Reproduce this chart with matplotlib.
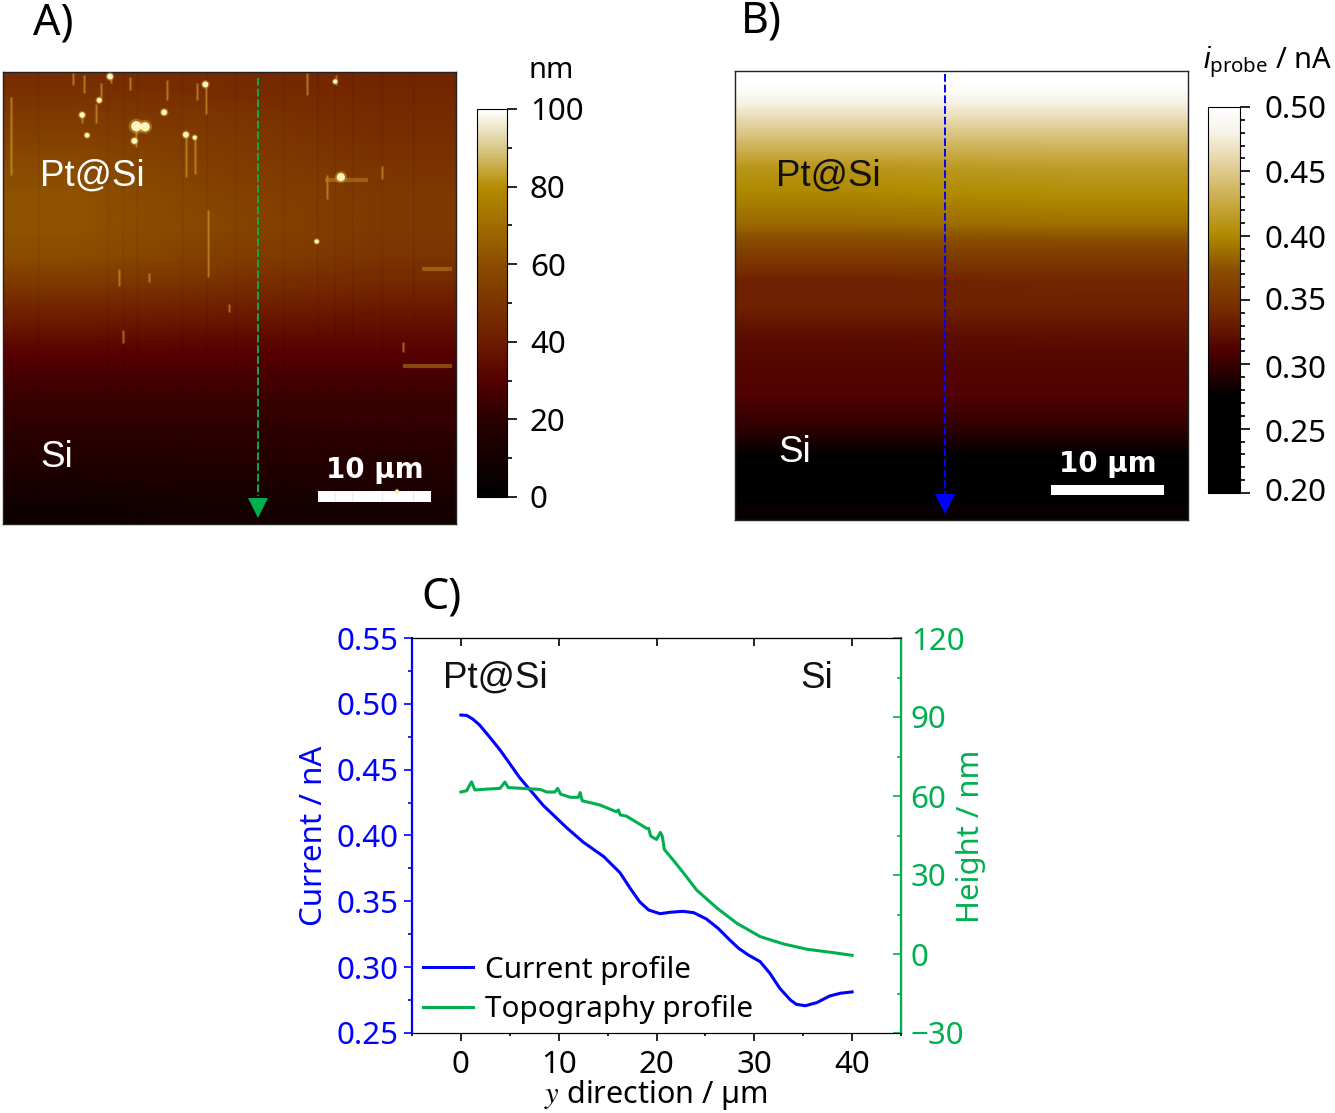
import numpy as np
import matplotlib
matplotlib.use("Agg")
import matplotlib.pyplot as plt
from matplotlib.colors import LinearSegmentedColormap
from matplotlib.cm import ScalarMappable
from matplotlib.colors import Normalize
from matplotlib.patches import Rectangle
from matplotlib.ticker import MultipleLocator, FixedLocator, FormatStrFormatter, NullFormatter

W, H = 1335, 1113

# profiles in panel C
x_current = [0, 0.6, 1.2, 1.9, 2.8, 4, 6, 8.4, 10.8, 12.5, 14.6, 16.27, 17.3, 18.3, 19.2, 20.36,
             21.4, 22.7, 23.8, 25.1, 26.3, 27.5, 28.4, 29.4, 30.6, 31.6, 32.6, 33.7, 34.3, 35.2,
             36.4, 37.7, 38.8, 40]
current = [0.4915, 0.4912, 0.4885, 0.484, 0.476, 0.465, 0.444, 0.423, 0.406, 0.395, 0.384, 0.3717,
           0.360, 0.3495, 0.3434, 0.3406, 0.3417, 0.3424, 0.3414, 0.3366, 0.3295, 0.3206, 0.3143,
           0.3092, 0.3042, 0.2953, 0.2840, 0.2750, 0.2718, 0.2707, 0.2731, 0.2781, 0.2802, 0.2812]
x_height = [0, 0.58, 1.09, 1.43, 2.6, 4.0, 4.5, 4.84, 6.7, 8.1, 8.8, 9.6, 9.9, 10.2, 11.2, 12,
            12.2, 12.4, 14.2, 15.9, 16.1, 16.3, 16.9, 19.0, 19.2, 19.4, 20, 20.4, 20.6, 20.8,
            21.7, 22.8, 24.1, 26.2, 28.2, 30.6, 33, 35.4, 38.1, 40]
height = [61.5, 62.0, 65.4, 62.3, 62.6, 62.9, 65.3, 63.2, 62.8, 62.5, 61.5, 61.5, 62.9, 60.7,
          59.5, 59.5, 61.3, 58.2, 56.6, 54.0, 54.7, 52.8, 52.4, 47.7, 47.7, 44.8, 43.5, 46.2,
          44.6, 39.7, 35.7, 30.6, 24.3, 17.4, 11.7, 6.6, 3.8, 1.8, 0.5, -0.5]

# topography map, rows top to bottom, in nm (left, middle, right of the scan)
topo_left = [48, 52, 56, 60, 62, 62, 60, 52, 42, 34, 28, 24, 21, 17, 13, 7]
topo_mid = [46, 50, 52, 54, 56, 57, 54, 48, 40, 33, 28, 24, 21, 18, 14, 10]
topo_right = [44, 46, 48, 50, 52, 52, 50, 45, 38, 33, 28, 24, 22, 18, 15, 10]

# vertical scan lines and bright features on the map, in um from the top left corner
stripe_x = [3.1, 9.3, 10.6, 11.8, 15.8, 18, 20.5, 24.8, 27.7, 29.3, 30.8, 33.5, 36.2]
streaks_x = [0.68, 6.14, 7.15, 8.67, 6.99, 8.17, 9.51, 11.2, 14.47, 17.1, 17.94, 16.15, 16.93, 11.7,
             10.25, 10.59, 12.88, 18.1, 19.96, 33.44, 28.65, 35.3, 26.87, 29.4]
streaks_top = [2.2, 0.1, 0.3, 1, 3.5, 2.8, 0.27, 0.4, 0.7, 1, 1, 5.6, 5.7, 5.1, 17.4,
               22.8, 17.8, 12.2, 20.5, 8.3, 9.1, 23.9, 0.1, 0.27]
streaks_end = [9.1, 1.15, 1.9, 2.2, 4.5, 4.5, 1, 1.6, 2.5, 2.5, 3.7, 9.3, 9, 6.6, 18.9,
               24, 18.6, 18.1, 21.2, 9.5, 11.2, 24.8, 2, 1.15]
ridges_x0 = [36.98, 35.29, 28.39]
ridges_x1 = [39.67, 39.67, 32.26]
ridges_y = [17.4, 26.0, 9.6]
spots_x = [11.77, 12.55, 11.6, 14.23, 16.15, 17.87, 9.45, 6.99, 8.5, 7.42, 29.83, 27.7, 16.93, 29.33,
           34.79]
spots_y = [4.8, 4.85, 6.1, 3.57, 5.55, 1.1, 0.4, 3.8, 2.5, 5.6, 9.3, 15, 5.8, 0.85, 37.1]
spots_size = [55, 45, 18, 18, 18, 18, 18, 16, 14, 12, 35, 10, 10, 10, 6]

# current map, rows top to bottom, in nA (left and right of the scan)
probe_left = [0.50, 0.47, 0.44, 0.41, 0.398, 0.385, 0.36, 0.335, 0.335, 0.32, 0.315, 0.312, 0.30,
              0.281, 0.268, 0.279]
probe_right = [0.50, 0.47, 0.44, 0.415, 0.402, 0.388, 0.36, 0.34, 0.335, 0.322, 0.315, 0.312, 0.30,
               0.281, 0.268, 0.279]

cbar_a_ticks = [0, 20, 40, 60, 80, 100]
cbar_b_ticks = [0.20, 0.25, 0.30, 0.35, 0.40, 0.45, 0.50]

BLUE = "#0000ff"
GREEN = "#00b050"
SANS = "Noto Sans"

plt.rcParams["font.family"] = SANS
plt.rcParams["mathtext.fontset"] = "custom"
plt.rcParams["mathtext.rm"] = SANS
plt.rcParams["mathtext.it"] = "Liberation Sans:italic"

cmap_a = LinearSegmentedColormap.from_list("topo", [
    (0, "#000000"), (0.2, "#2a0000"), (0.3, "#550000"), (0.4, "#6e1c00"), (0.6, "#8a4c00"),
    (0.8, "#b58c00"), (0.9, "#d8c888"), (1, "#ffffff")])
cmap_b = LinearSegmentedColormap.from_list("probe", [
    (0, "#000000"), (0.25, "#000000"), (0.37, "#500000"), (0.47, "#762800"), (0.58, "#8a5000"),
    (0.67, "#b08a00"), (0.75, "#c8a840"), (0.84, "#dfcb90"), (0.94, "#f8f4ea"), (1, "#ffffff")])


def px_axes(left, top, right, bottom):
    return fig.add_axes([left / W, 1 - bottom / H, (right - left) / W, (bottom - top) / H])


def px_text(x, y, s, **kw):
    kw.setdefault("va", "center")
    return fig.text(x / W, 1 - y / H, s, **kw)


def scale_bar(ax, x0, y0, y1, label, dy):
    ax.add_patch(Rectangle((x0, y0), 10, y1 - y0, color="white", lw=0))
    ax.text(x0 + 5, y0 - dy, label, color="white", ha="center", va="center", fontsize=20,
            fontweight="bold", family="DejaVu Sans")


def setup_map(ax):
    ax.set_xticks([])
    ax.set_yticks([])
    ax.set_xlim(0, 40)
    ax.set_ylim(40, 0)
    for s in ax.spines.values():
        s.set_linewidth(1.0)
        s.set_color("#222222")


fig = plt.figure(figsize=(W / 100, H / 100), dpi=100)

# A) topography
ax_a = px_axes(3, 72, 456, 524)
topo = np.column_stack([topo_left, topo_mid, topo_right])
ax_a.imshow(topo, cmap=cmap_a, vmin=0, vmax=100, extent=[0, 40, 40, 0], aspect="auto",
            interpolation="bilinear")
ax_a.vlines(stripe_x, 0, 40, color="black", lw=1.0, alpha=0.07)
ax_a.vlines(streaks_x, streaks_top, streaks_end, color="#d8a020", lw=2.4, alpha=0.22)
ax_a.vlines(streaks_x, streaks_top, streaks_end, color="#e0b040", lw=1.0, alpha=0.45)
ax_a.hlines(ridges_y, ridges_x0, ridges_x1, color="#b88420", lw=3, alpha=0.55)
ax_a.scatter(spots_x, spots_y, s=np.array(spots_size) * 2.2, color="#e0b030", alpha=0.4, lw=0, zorder=3)
ax_a.scatter(spots_x, spots_y, s=spots_size, color="#fff4c0", lw=0, zorder=3)
ax_a.plot([22.5, 22.5], [0.5, 37.5], color=GREEN, lw=1.4, ls=(0, (4, 1.5)))
ax_a.plot([22.5], [38.6], marker="v", ms=15, color=GREEN, mew=0)
scale_bar(ax_a, 27.8, 37.1, 38.05, "10 µm", 1.9)
setup_map(ax_a)
ax_a.text(3.3, 9.2, "Pt@Si", color="white", fontsize=26.5, family="Liberation Sans", va="center")
ax_a.text(3.3, 34.1, "Si", color="white", fontsize=26.5, family="Liberation Sans", va="center")

cax_a = px_axes(477, 109, 507, 497)
fig.colorbar(ScalarMappable(Normalize(0, 100), cmap_a), cax=cax_a, ticks=cbar_a_ticks)
cax_a.yaxis.set_minor_locator(MultipleLocator(10))
cax_a.tick_params(which="major", length=7.5, width=1.2, labelsize=22.5, pad=9)
cax_a.tick_params(which="minor", length=3.5, width=1.2)
cax_a.set_yticklabels([str(t) for t in cbar_a_ticks])
px_text(551, 71, "nm", ha="center", fontsize=21)

# B) current
ax_b = px_axes(735, 71, 1188, 520)
probe = np.column_stack([probe_left, probe_right])
ax_b.imshow(probe, cmap=cmap_b, vmin=0.2, vmax=0.5, extent=[0, 40, 40, 0], aspect="auto",
            interpolation="bilinear")
ax_b.plot([18.5, 18.5], [0.3, 37.6], color=BLUE, lw=1.4, ls=(0, (4, 1.5)))
ax_b.plot([18.5], [38.6], marker="v", ms=15, color=BLUE, mew=0)
scale_bar(ax_b, 27.9, 36.9, 37.8, "10 µm", 1.9)
setup_map(ax_b)
ax_b.text(3.6, 9.35, "Pt@Si", color="#111111", fontsize=26.5, family="Liberation Sans", va="center")
ax_b.text(3.8, 34.0, "Si", color="white", fontsize=26.5, family="Liberation Sans", va="center")

cax_b = px_axes(1208, 107, 1240, 493)
fig.colorbar(ScalarMappable(Normalize(0.2, 0.5), cmap_b), cax=cax_b, ticks=cbar_b_ticks)
cax_b.yaxis.set_minor_locator(MultipleLocator(0.01))
cax_b.tick_params(which="major", length=7.5, width=1.2, pad=10)
cax_b.tick_params(which="minor", length=3.5, width=1.2)
cax_b.yaxis.set_major_formatter(NullFormatter())
# the labels sit a few pixels below their ticks in the original
for t, y in zip(cbar_b_ticks, [493, 434, 370, 302, 240, 175, 110]):
    px_text(1264, y, f"{t:.2f}", fontsize=22.5)
px_text(1268, 62, r"$\mathit{i}_{\mathrm{probe}}$ / nA", ha="center", fontsize=21)

# C) line profiles
ax_c = px_axes(412, 638, 901, 1033)
line_i, = ax_c.plot(x_current, current, color=BLUE, lw=2.2, label="Current profile")
ax_c.set_xlim(-5, 45)
ax_c.set_ylim(0.25, 0.55)
ax_c.xaxis.set_major_locator(FixedLocator([0, 10, 20, 30, 40]))
ax_c.xaxis.set_minor_locator(FixedLocator([-5, 5, 15, 25, 35, 45]))
ax_c.yaxis.set_major_locator(MultipleLocator(0.05))
ax_c.yaxis.set_minor_locator(MultipleLocator(0.025))
ax_c.yaxis.set_major_formatter(FormatStrFormatter("%.2f"))
ax_c.tick_params(axis="x", which="major", length=6, width=1.2, labelsize=22.5, pad=6)
ax_c.tick_params(axis="x", which="minor", length=2.5, width=1.2)
ax_c.tick_params(axis="y", which="major", length=6, width=1.2, labelsize=22.5, colors=BLUE, pad=3.5)
ax_c.tick_params(axis="y", which="minor", length=3, width=1.2, colors=BLUE)
ax_c.spines["left"].set_color(BLUE)
ax_c.spines["left"].set_linewidth(1.6)

# top ticks point inward, bottom ones outward
top = ax_c.secondary_xaxis("top")
top.set_xticks([0, 10, 20, 30, 40], labels=[])
top.tick_params(axis="x", direction="in", length=6, width=1.2)

ax_h = ax_c.twinx()
line_h, = ax_h.plot(x_height, height, color=GREEN, lw=2.2, label="Topography profile")
ax_h.set_ylim(-30, 120)
ax_h.yaxis.set_major_locator(MultipleLocator(30))
ax_h.yaxis.set_minor_locator(MultipleLocator(15))
ax_h.tick_params(axis="y", which="major", direction="in", length=6, width=1.2, labelsize=22.5,
                 colors=GREEN, pad=7)
ax_h.tick_params(axis="y", which="minor", direction="in", length=3, width=1.2, colors=GREEN)
ax_h.spines["right"].set_color(GREEN)
ax_h.spines["right"].set_linewidth(1.6)
ax_h.spines["left"].set_visible(False)

ax_h.legend(handles=[line_i, line_h], frameon=False, fontsize=21.4, loc="lower left",
            bbox_to_anchor=(5 / 489, 3 / 395), borderaxespad=0, borderpad=0.2, handlelength=1.7,
            handletextpad=0.38, labelspacing=0.34)

px_text(314, 836, "Current / nA", rotation=90, ha="center", color=BLUE, fontsize=22.5)
px_text(971, 836, "Height / nm", rotation=90, ha="center", color=GREEN, fontsize=22.3)
px_text(656, 1095, r"$y$ direction / µm", ha="center", fontsize=22, math_fontfamily="stix")
px_text(443, 678, "Pt@Si", fontsize=26.5, family="Liberation Sans", color="#111111")
px_text(800, 678, "Si", fontsize=26.5, family="Liberation Sans", color="#111111")

# panel letters
px_text(33, 23, "A)", fontsize=31)
px_text(741, 21, "B)", fontsize=31)
px_text(421, 597, "C)", fontsize=31)

fig.savefig("out.png", dpi=100)
